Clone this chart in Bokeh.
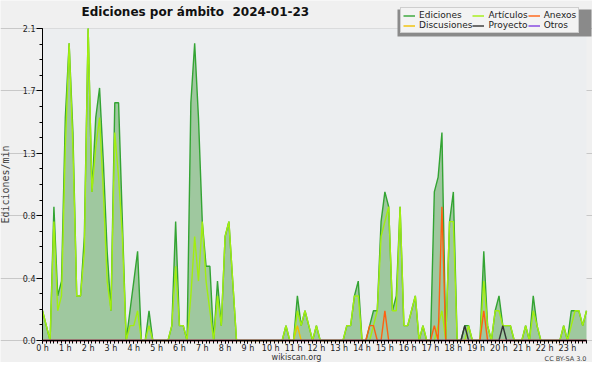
from bokeh.plotting import figure
from bokeh.models import (FixedTicker, Range1d, Legend, LegendItem, Label,
                          PrintfTickFormatter, BoxAnnotation)
from bokeh.embed import file_html
from bokeh.resources import INLINE

# 10-minute buckets over the day (index 0..143), values in edits/min
steps = list(range(144))
hour_labels = ["%d h" % h for h in range(24)]

ediciones = [
    0.2, 0.1, 0.0, 0.9, 0.3, 0.4, 1.5, 2.0, 1.4, 0.3, 0.3, 0.7,
    2.1, 1.0, 1.5, 1.7, 1.2, 0.6, 0.2, 1.6, 1.6, 0.8, 0.0, 0.2,
    0.4, 0.6, 0.0, 0.0, 0.2, 0.0, 0.0, 0.0, 0.0, 0.0, 0.1, 0.8,
    0.1, 0.1, 0.0, 1.6, 2.0, 1.5, 0.8, 0.5, 0.5, 0.0, 0.4, 0.1,
    0.7, 0.8, 0.4, 0.0, 0.0, 0.0, 0.0, 0.0, 0.0, 0.0, 0.0, 0.0,
    0.0, 0.0, 0.0, 0.0, 0.1, 0.0, 0.0, 0.3, 0.1, 0.2, 0.1, 0.0,
    0.1, 0.0, 0.0, 0.0, 0.0, 0.0, 0.0, 0.0, 0.1, 0.1, 0.3, 0.4,
    0.0, 0.0, 0.1, 0.2, 0.2, 0.8, 1.0, 0.9, 0.2, 0.3, 0.9, 0.1,
    0.1, 0.2, 0.3, 0.0, 0.1, 0.0, 0.0, 1.0, 1.1, 1.4, 0.0, 0.8,
    1.0, 0.0, 0.0, 0.1, 0.1, 0.0, 0.0, 0.0, 0.6, 0.1, 0.0, 0.2,
    0.3, 0.1, 0.1, 0.1, 0.0, 0.0, 0.0, 0.1, 0.0, 0.3, 0.1, 0.0,
    0.0, 0.0, 0.0, 0.0, 0.0, 0.1, 0.0, 0.2, 0.2, 0.2, 0.1, 0.2,
]
articulos = [
    0.2, 0.1, 0.0, 0.8, 0.2, 0.3, 1.3, 2.0, 1.3, 0.3, 0.3, 0.6,
    2.1, 1.0, 1.3, 1.5, 1.0, 0.4, 0.2, 1.4, 1.1, 0.7, 0.0, 0.1,
    0.1, 0.2, 0.0, 0.0, 0.1, 0.0, 0.0, 0.0, 0.0, 0.0, 0.1, 0.5,
    0.1, 0.1, 0.0, 0.3, 0.7, 0.4, 0.8, 0.4, 0.2, 0.0, 0.3, 0.1,
    0.7, 0.8, 0.4, 0.0, 0.0, 0.0, 0.0, 0.0, 0.0, 0.0, 0.0, 0.0,
    0.0, 0.0, 0.0, 0.0, 0.1, 0.0, 0.0, 0.2, 0.1, 0.2, 0.1, 0.0,
    0.1, 0.0, 0.0, 0.0, 0.0, 0.0, 0.0, 0.0, 0.1, 0.1, 0.3, 0.3,
    0.0, 0.0, 0.0, 0.1, 0.2, 0.7, 0.8, 0.9, 0.2, 0.2, 0.9, 0.1,
    0.1, 0.2, 0.3, 0.0, 0.1, 0.0, 0.0, 0.0, 0.1, 0.2, 0.0, 0.8,
    0.8, 0.0, 0.0, 0.0, 0.1, 0.0, 0.0, 0.0, 0.4, 0.1, 0.0, 0.2,
    0.2, 0.1, 0.1, 0.1, 0.0, 0.0, 0.0, 0.1, 0.0, 0.2, 0.1, 0.0,
    0.0, 0.0, 0.0, 0.0, 0.0, 0.1, 0.0, 0.1, 0.2, 0.2, 0.1, 0.2,
]
anexos = [0.0] * 144
for i, v in [(86, 0.1), (87, 0.1), (90, 0.2), (103, 0.1), (105, 0.9), (116, 0.2)]:
    anexos[i] = v
discusiones = [0.0] * 144
discusiones[67] = 0.1
proyecto = [0.0] * 144
proyecto[111] = 0.1
proyecto[121] = 0.1
otros = [0.0] * 144

Y_MAX = 2.1
y_ticks = [0, 0.42, 0.84, 1.26, 1.68, 2.1]

# ---- layout geometry (pixels in the figure) ----
W, H = 592, 362
FL, FR = 42, 586          # pixel columns of the first / last 10-minute bucket
Y0_PX, YTOP_PX = 340, 28  # pixel rows of y=0 and y=Y_MAX
ppu = (Y0_PX - YTOP_PX) / Y_MAX
ppx = (FR - FL) / 143.0


def dx(px):
    return (px - FL) / ppx


def dy(py):
    return (Y0_PX - py) / ppu


p = figure(width=W, height=H, output_backend="svg", toolbar_location=None, title=None,
           x_range=Range1d(dx(0), dx(W)), y_range=Range1d(dy(H), dy(0)),
           min_border_left=0, min_border_right=0, min_border_top=0, min_border_bottom=0)
p.background_fill_color = "#f0f0f0"
p.border_fill_color = "#f0f0f0"
p.outline_line_color = None
p.add_layout(BoxAnnotation(left=0, right=143, bottom=0, top=Y_MAX,
                           fill_color="#eceef0", fill_alpha=1.0, line_color=None,
                           level="underlay"))

# data
p.varea(x=steps, y1=0, y2=ediciones, fill_color="#9fc89f")
r_ed = p.line(steps, ediciones, line_color="#33a433", line_width=1.4)
r_di = p.line(steps, discusiones, line_color="#f0c000", line_width=1.4)
r_ar = p.line(steps, articulos, line_color="#a2ee10", line_width=1.4)
r_an = p.line(steps, anexos, line_color="#ff6010", line_width=1.4)
r_pr = p.line(steps, proyecto, line_color="#333333", line_width=1.4)
r_ot = p.line(steps, otros, line_color="#8040e0", line_width=1.4)

# axes (placed inside the full-size frame)
p.xgrid.visible = False
p.ygrid.grid_line_color = "#c8c8c8"
p.ygrid.bounds = (0, 143)
p.yaxis.ticker = FixedTicker(ticks=y_ticks, minor_ticks=[0.105 * k for k in range(21)])
p.yaxis.formatter = PrintfTickFormatter(format="%.1f")
p.yaxis.bounds = (0, Y_MAX)
p.yaxis.fixed_location = 0
p.xaxis.ticker = FixedTicker(ticks=[6 * h for h in range(24)], minor_ticks=steps)
p.xaxis.major_label_overrides = {6 * h: hour_labels[h] for h in range(24)}
p.xaxis.bounds = (0, 143)
p.xaxis.fixed_location = 0
for ax in (p.xaxis[0], p.yaxis[0]):
    ax.axis_line_color = "black"
    ax.major_tick_line_color = "black"
    ax.minor_tick_line_color = "black"
    ax.major_tick_in = 0
    ax.minor_tick_in = 0
    ax.major_label_text_font = "DejaVu Sans"
    ax.major_label_text_font_size = "8px"
    ax.major_label_text_color = "#222222"
p.yaxis.major_tick_out = 6
p.yaxis.minor_tick_out = 3
p.yaxis.major_label_standoff = 1
p.xaxis.major_tick_out = 3
p.xaxis.minor_tick_out = 3
p.xaxis.major_label_standoff = 0
p.yaxis.axis_label = "Ediciones/min"
p.yaxis.axis_label_text_font = "DejaVu Sans Mono"
p.yaxis.axis_label_text_font_size = "10px"
p.yaxis.axis_label_text_font_style = "normal"
p.yaxis.axis_label_standoff = 9

# title
p.add_layout(Label(x=dx(81), y=dy(11), text="Ediciones por ámbito\u00a0 2024-01-23",
                   text_align="left", text_baseline="middle", text_font="DejaVu Sans",
                   text_font_style="bold", text_font_size="12px", text_color="#111111"))

# legend shadow + legend
p.add_layout(BoxAnnotation(left=dx(397), right=dx(591), top=dy(9), bottom=dy(36),
                           fill_color="#8a8a8a", fill_alpha=1.0, line_color=None))
items = [LegendItem(label="Ediciones", renderers=[r_ed]),
         LegendItem(label="Artículos", renderers=[r_ar]),
         LegendItem(label="Anexos", renderers=[r_an]),
         LegendItem(label="Discusiones", renderers=[r_di]),
         LegendItem(label="Proyecto", renderers=[r_pr]),
         LegendItem(label="Otros", renderers=[r_ot])]
legend = Legend(items=items, location=(400, H - 33), orientation="horizontal", ncols=3,
                label_text_font="DejaVu Sans", label_text_font_size="9px",
                label_text_color="#222222", label_text_line_height=1.0,
                glyph_width=12, glyph_height=9, label_height=9, label_standoff=4,
                spacing=0, padding=2, margin=0,
                border_line_color="#aaaaaa", border_line_width=1,
                background_fill_color="#f3f3f3", background_fill_alpha=1.0)
p.add_layout(legend, "center")

p.add_layout(Label(x=dx(296), y=dy(357), text="wikiscan.org", text_align="center",
                   text_baseline="middle", text_font="DejaVu Sans",
                   text_font_size="8px", text_color="#333333"))
p.add_layout(Label(x=dx(586), y=dy(358), text="CC BY-SA 3.0", text_align="right",
                   text_baseline="middle", text_font="DejaVu Sans",
                   text_font_size="6.5px", text_color="#444444"))

open("out.html", "w").write(file_html(p, INLINE))
